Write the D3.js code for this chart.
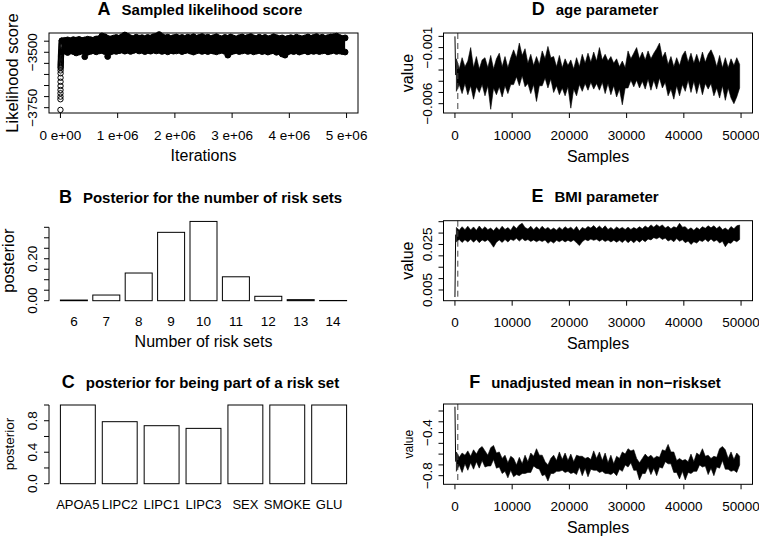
<!DOCTYPE html>
<html><head><meta charset="utf-8">
<script src="https://cdn.jsdelivr.net/npm/d3@7"></script>
<style>
body{margin:0;background:#fff}
svg{display:block}
text{font-family:"Liberation Sans",Arial,Helvetica,sans-serif;fill:#000}
</style>
</head><body>
<svg id="c" width="759" height="536"></svg>
<script>
// ---------------- DATA ----------------
// Panel A: sampled likelihood score
const aXTicks = [0, 1e6, 2e6, 3e6, 4e6, 5e6];
const aXTickLabels = ["0 e+00", "1 e+06", "2 e+06", "3 e+06", "4 e+06", "5 e+06"];
const aYTicks = [-3750, -3700, -3650, -3600, -3550, -3500, -3450];
const aYLabelled = [-3750, -3500];
const aBurnIter = [0, 300, 600, 900, 1200, 1500, 1800, 2100, 2400, 2700, 3000, 3600, 4200, 4800, 5400, 6000, 6600, 7200, 7800, 8400, 9000, 10000, 11000, 12000, 13000, 14000, 15000, 16000, 17000, 18000, 19000, 20000, 22000, 24000];
const aBurnScore = [-3760, -3712, -3700, -3685, -3670, -3652, -3633, -3615, -3595, -3582, -3571, -3566, -3560, -3555, -3550, -3545, -3540, -3535, -3530, -3525, -3520, -3515, -3510, -3505, -3500, -3495, -3490, -3484, -3478, -3472, -3466, -3460, -3454, -3448];
const aBlock = 50000; // iterations per envelope block
const aBandHi = [
-3448,-3446,-3444,-3447,-3443,-3445,-3442,-3446,-3444,-3441,
-3443,-3445,-3440,-3438,-3426,-3430,-3437,-3440,-3436,-3433,
-3437,-3430,-3422,-3428,-3435,-3438,-3432,-3436,-3434,-3439,
-3433,-3436,-3430,-3427,-3420,-3429,-3435,-3432,-3438,-3434,
-3431,-3436,-3433,-3439,-3432,-3435,-3430,-3437,-3433,-3429,
-3435,-3432,-3438,-3434,-3430,-3436,-3439,-3433,-3437,-3431,
-3436,-3440,-3434,-3431,-3437,-3433,-3429,-3435,-3438,-3432,
-3437,-3433,-3439,-3436,-3430,-3434,-3438,-3435,-3441,-3437,
-3434,-3438,-3432,-3436,-3439,-3435,-3431,-3437,-3433,-3429,
-3436,-3432,-3438,-3434,-3431,-3430,-3427,-3433,-3437,-3435];
const aBandLo = [
-3498,-3495,-3501,-3494,-3497,-3503,-3499,-3495,-3520,-3500,
-3496,-3493,-3498,-3494,-3492,-3497,-3519,-3499,-3494,-3496,
-3493,-3490,-3495,-3491,-3496,-3492,-3489,-3494,-3491,-3497,
-3492,-3495,-3490,-3494,-3491,-3496,-3493,-3498,-3492,-3495,
-3494,-3491,-3497,-3493,-3490,-3495,-3499,-3494,-3491,-3496,
-3493,-3497,-3492,-3495,-3498,-3494,-3491,-3496,-3513,-3499,
-3495,-3492,-3497,-3494,-3491,-3496,-3493,-3498,-3495,-3492,
-3497,-3494,-3499,-3495,-3493,-3500,-3496,-3508,-3513,-3498,
-3494,-3497,-3493,-3499,-3495,-3492,-3498,-3494,-3496,-3493,
-3497,-3494,-3492,-3498,-3495,-3491,-3496,-3494,-3497,-3499];

// Panel B: posterior for number of risk sets
const bCategories = ["6", "7", "8", "9", "10", "11", "12", "13", "14"];
const bPosterior = [0.003, 0.027, 0.132, 0.326, 0.378, 0.114, 0.021, 0.005, 0.001];
const bYTicks = [0, 0.05, 0.10, 0.15, 0.20, 0.25, 0.30, 0.35];
const bYLabelled = [0, 0.20];

// Panel C: posterior for being part of a risk set
const cCategories = ["APOA5", "LIPC2", "LIPC1", "LIPC3", "SEX", "SMOKE", "GLU"];
const cPosterior = [1.0, 0.788, 0.737, 0.703, 1.0, 1.0, 1.0];
const cYTicks = [0, 0.2, 0.4, 0.6, 0.8, 1.0];
const cYLabelled = [0, 0.4, 0.8];

// Trace panels D, E, F (upper / lower envelope per block of 500 samples)
const traceXTicks = [0, 10000, 20000, 30000, 40000, 50000];
const traceBlock = 500;
const burnIn = 500;

const dStart = 0.0000;
const dHi = [
-0.0020,-0.0029,-0.0019,-0.0027,-0.0022,-0.0010,-0.0028,-0.0018,-0.0029,-0.0021,
-0.0019,-0.0028,-0.0017,-0.0029,-0.0020,-0.0015,-0.0027,-0.0018,-0.0028,-0.0019,
-0.0012,-0.0019,-0.0006,-0.0017,-0.0011,-0.0024,-0.0016,-0.0026,-0.0018,-0.0025,
-0.0013,-0.0020,-0.0009,-0.0019,-0.0018,-0.0027,-0.0017,-0.0028,-0.0020,-0.0026,
-0.0021,-0.0029,-0.0019,-0.0027,-0.0016,-0.0024,-0.0015,-0.0023,-0.0014,-0.0022,
-0.0010,-0.0021,-0.0016,-0.0022,-0.0018,-0.0024,-0.0020,-0.0027,-0.0022,-0.0028,
-0.0013,-0.0020,-0.0015,-0.0010,-0.0020,-0.0014,-0.0021,-0.0013,-0.0020,-0.0015,
-0.0011,-0.0006,-0.0019,-0.0014,-0.0025,-0.0018,-0.0027,-0.0019,-0.0026,-0.0017,
-0.0013,-0.0023,-0.0015,-0.0024,-0.0016,-0.0024,-0.0014,-0.0023,-0.0016,-0.0012,
-0.0018,-0.0027,-0.0017,-0.0028,-0.0019,-0.0028,-0.0020,-0.0026,-0.0019,-0.0025];
const dLo = [
-0.0049,-0.0043,-0.0051,-0.0042,-0.0052,-0.0044,-0.0056,-0.0045,-0.0050,-0.0043,
-0.0053,-0.0044,-0.0065,-0.0046,-0.0052,-0.0045,-0.0054,-0.0044,-0.0051,-0.0043,
-0.0043,-0.0036,-0.0044,-0.0035,-0.0045,-0.0042,-0.0051,-0.0043,-0.0058,-0.0044,
-0.0044,-0.0037,-0.0046,-0.0038,-0.0050,-0.0044,-0.0052,-0.0046,-0.0053,-0.0045,
-0.0064,-0.0047,-0.0053,-0.0043,-0.0049,-0.0042,-0.0048,-0.0041,-0.0047,-0.0042,
-0.0048,-0.0041,-0.0051,-0.0042,-0.0052,-0.0044,-0.0054,-0.0047,-0.0061,-0.0046,
-0.0046,-0.0039,-0.0045,-0.0039,-0.0046,-0.0040,-0.0047,-0.0038,-0.0048,-0.0039,
-0.0047,-0.0037,-0.0046,-0.0041,-0.0053,-0.0047,-0.0056,-0.0044,-0.0053,-0.0043,
-0.0049,-0.0039,-0.0050,-0.0040,-0.0051,-0.0041,-0.0052,-0.0042,-0.0047,-0.0042,
-0.0053,-0.0046,-0.0055,-0.0044,-0.0057,-0.0046,-0.0055,-0.0060,-0.0054,-0.0046];
const dYTicks = [-0.006, -0.005, -0.004, -0.003, -0.002, -0.001, 0.000];
const dYLabelled = [-0.006, -0.001];

const eStart = 0.0019;
const eHi = [
0.0325,0.0313,0.0328,0.0315,0.0330,0.0314,0.0327,0.0312,0.0331,0.0316,
0.0328,0.0315,0.0322,0.0310,0.0326,0.0314,0.0330,0.0316,0.0324,0.0313,
0.0332,0.0320,0.0335,0.0343,0.0324,0.0318,0.0330,0.0315,0.0328,0.0316,
0.0330,0.0317,0.0325,0.0314,0.0322,0.0313,0.0326,0.0315,0.0328,0.0318,
0.0326,0.0314,0.0329,0.0309,0.0325,0.0318,0.0329,0.0322,0.0333,0.0320,
0.0331,0.0319,0.0332,0.0316,0.0325,0.0315,0.0327,0.0318,0.0325,0.0316,
0.0326,0.0316,0.0324,0.0318,0.0328,0.0319,0.0331,0.0322,0.0336,0.0326,
0.0337,0.0328,0.0336,0.0322,0.0330,0.0319,0.0328,0.0323,0.0343,0.0326,
0.0328,0.0315,0.0323,0.0312,0.0324,0.0316,0.0328,0.0321,0.0332,0.0323,
0.0332,0.0320,0.0330,0.0315,0.0322,0.0312,0.0329,0.0319,0.0332,0.0335];
const eLo = [
0.0262,0.0272,0.0259,0.0271,0.0261,0.0273,0.0260,0.0272,0.0258,0.0270,
0.0263,0.0271,0.0256,0.0238,0.0260,0.0270,0.0259,0.0272,0.0261,0.0273,
0.0267,0.0277,0.0265,0.0276,0.0266,0.0272,0.0263,0.0270,0.0262,0.0269,
0.0263,0.0270,0.0255,0.0265,0.0256,0.0268,0.0262,0.0270,0.0261,0.0269,
0.0262,0.0270,0.0257,0.0245,0.0262,0.0272,0.0266,0.0274,0.0268,0.0273,
0.0264,0.0272,0.0263,0.0270,0.0261,0.0269,0.0260,0.0268,0.0259,0.0271,
0.0258,0.0269,0.0257,0.0270,0.0260,0.0271,0.0262,0.0274,0.0270,0.0280,
0.0275,0.0282,0.0272,0.0278,0.0265,0.0272,0.0262,0.0276,0.0264,0.0271,
0.0258,0.0265,0.0250,0.0262,0.0256,0.0268,0.0263,0.0273,0.0262,0.0274,
0.0263,0.0270,0.0256,0.0264,0.0240,0.0258,0.0255,0.0269,0.0262,0.0272];
const eYTicks = [0.005, 0.010, 0.015, 0.020, 0.025, 0.030, 0.035];
const eYLabelled = [0.005, 0.025];

const fStart = -0.16;
const fHi = [
-0.58,-0.63,-0.59,-0.61,-0.57,-0.62,-0.56,-0.60,-0.55,-0.53,
-0.57,-0.61,-0.54,-0.52,-0.59,-0.58,-0.64,-0.61,-0.68,-0.62,
-0.64,-0.70,-0.63,-0.69,-0.61,-0.67,-0.59,-0.62,-0.55,-0.61,
-0.61,-0.67,-0.70,-0.64,-0.61,-0.66,-0.58,-0.65,-0.59,-0.66,
-0.60,-0.67,-0.61,-0.62,-0.62,-0.64,-0.63,-0.65,-0.57,-0.64,
-0.58,-0.66,-0.59,-0.68,-0.61,-0.69,-0.62,-0.64,-0.58,-0.60,
-0.55,-0.57,-0.56,-0.64,-0.68,-0.64,-0.60,-0.63,-0.61,-0.64,
-0.62,-0.63,-0.56,-0.57,-0.51,-0.58,-0.58,-0.66,-0.64,-0.66,
-0.65,-0.67,-0.60,-0.67,-0.59,-0.61,-0.55,-0.62,-0.61,-0.64,
-0.62,-0.63,-0.55,-0.53,-0.56,-0.64,-0.58,-0.65,-0.59,-0.62];
const fLo = [
-0.76,-0.70,-0.77,-0.69,-0.75,-0.68,-0.74,-0.67,-0.73,-0.66,
-0.72,-0.71,-0.71,-0.65,-0.73,-0.72,-0.78,-0.76,-0.82,-0.75,
-0.81,-0.79,-0.80,-0.78,-0.78,-0.77,-0.77,-0.71,-0.73,-0.74,
-0.80,-0.79,-0.85,-0.78,-0.78,-0.76,-0.76,-0.75,-0.77,-0.76,
-0.78,-0.77,-0.79,-0.72,-0.80,-0.73,-0.81,-0.74,-0.75,-0.75,
-0.77,-0.76,-0.78,-0.78,-0.79,-0.77,-0.80,-0.74,-0.76,-0.70,
-0.72,-0.68,-0.75,-0.75,-0.84,-0.78,-0.78,-0.72,-0.79,-0.73,
-0.80,-0.72,-0.73,-0.67,-0.69,-0.69,-0.77,-0.77,-0.83,-0.76,
-0.84,-0.77,-0.78,-0.76,-0.76,-0.70,-0.72,-0.71,-0.79,-0.73,
-0.80,-0.72,-0.73,-0.66,-0.74,-0.74,-0.76,-0.75,-0.77,-0.70];
const fYTicks = [-0.8, -0.7, -0.6, -0.5, -0.4, -0.3, -0.2];
const fYLabelled = [-0.8, -0.4];

// ---------------- DRAWING ----------------
const svg = d3.select("#c");
svg.append("rect").attr("width", 759).attr("height", 536).attr("fill", "#fff");

const TICK = 5, TICKFS = 13.5;

function title(cx, by, letter, txt) {
  const t = svg.append("text").attr("x", cx).attr("y", by)
    .attr("text-anchor", "middle").style("font-weight", "bold");
  t.append("tspan").style("font-size", "18px").text(letter);
  t.append("tspan").attr("dx", 11).style("font-size", "15px").text(txt);
}
function yTitle(bx, cy, txt, fs) {
  svg.append("text").attr("transform", `translate(${bx},${cy}) rotate(-90)`)
    .attr("text-anchor", "middle").style("font-size", fs + "px").text(txt);
}
function xTitle(cx, cy, txt) {
  svg.append("text").attr("x", cx).attr("y", cy).attr("dy", "0.35em")
    .attr("text-anchor", "middle").style("font-size", "16px").text(txt);
}
function box(x0, x1, y0, y1) {
  svg.append("rect").attr("x", x0).attr("y", y0).attr("width", x1 - x0).attr("height", y1 - y0)
    .attr("fill", "none").attr("stroke", "#000").attr("stroke-width", 1);
}
function yAxis(scale, x, ticks, labelled, fmt, drawLine) {
  const g = svg.append("g");
  if (drawLine) {
    g.append("line").attr("x1", x).attr("x2", x)
      .attr("y1", scale(ticks[0])).attr("y2", scale(ticks[ticks.length - 1]))
      .attr("stroke", "#000");
  }
  g.selectAll("line.t").data(ticks).join("line").attr("class", "t")
    .attr("x1", x - TICK).attr("x2", x).attr("y1", d => scale(d)).attr("y2", d => scale(d))
    .attr("stroke", "#000");
  g.selectAll("text").data(labelled).join("text")
    .attr("transform", d => `translate(${x - 12},${scale(d)}) rotate(-90)`)
    .attr("text-anchor", "middle").style("font-size", TICKFS + "px")
    .text(fmt);
}
function xAxis(scale, y, ticks, labels) {
  const g = svg.append("g");
  g.selectAll("line").data(ticks).join("line")
    .attr("x1", d => scale(d)).attr("x2", d => scale(d)).attr("y1", y).attr("y2", y + TICK)
    .attr("stroke", "#000");
  g.selectAll("text").data(ticks).join("text")
    .attr("x", d => scale(d)).attr("y", y + 26.5).attr("text-anchor", "middle")
    .style("font-size", TICKFS + "px").text((d, i) => labels[i]);
}

// ----- Panel A -----
{
  const x = d3.scaleLinear([-2e5, 5.2e6], [49, 358]);
  const y = d3.scaleLinear([-3774, -3413], [113, 33]);
  const g = svg.append("g");
  const blocks = aBandHi.map((h, i) => ({ it: (i + 0.5) * aBlock, hi: h, lo: aBandLo[i] }));
  g.append("path").datum(blocks)
    .attr("d", d3.area().x(d => x(d.it)).y0(d => y(d.lo)).y1(d => y(d.hi)))
    .attr("fill", "#000");
  const edge = [];
  blocks.forEach(b => { edge.push([b.it, b.hi]); edge.push([b.it, b.lo]); });
  g.append("g").selectAll("circle").data(edge).join("circle")
    .attr("cx", d => x(d[0])).attr("cy", d => y(d[1])).attr("r", 2.9)
    .attr("fill", "#000").attr("stroke", "#000").attr("stroke-width", 1);
  g.append("g").selectAll("circle").data(aBurnIter).join("circle")
    .attr("cx", d => x(d)).attr("cy", (d, i) => y(aBurnScore[i])).attr("r", 2.7)
    .attr("fill", "none").attr("stroke", "#000").attr("stroke-width", 1);
  box(49, 358, 33, 113);
  xAxis(x, 113, aXTicks, aXTickLabels);
  yAxis(y, 49, aYTicks, aYLabelled, d => d3.format("d")(d), false);
  title(200, 15, "A", "Sampled likelihood score");
  yTitle(18, 73, "Likelihood score", 16.5);
  xTitle(203.5, 155, "Iterations");
}

// ----- Panel B -----
{
  const x = d3.scaleBand(bCategories, [60.4, 346.6]).paddingInner(1 / 6).paddingOuter(0);
  const y = d3.scaleLinear([0, 0.35], [300.7, 227.3]);
  svg.append("g").selectAll("rect").data(bCategories).join("rect")
    .attr("x", d => x(d)).attr("width", x.bandwidth())
    .attr("y", (d, i) => y(bPosterior[i])).attr("height", (d, i) => y(0) - y(bPosterior[i]))
    .attr("fill", "#fff").attr("stroke", "#000").attr("stroke-width", 1);
  yAxis(y, 49, bYTicks, bYLabelled, d3.format(".2f"), true);
  svg.append("g").selectAll("text").data(bCategories).join("text")
    .attr("x", d => x(d) + x.bandwidth() / 2).attr("y", 325.7).attr("text-anchor", "middle")
    .style("font-size", TICKFS + "px").text(d => d);
  title(200.5, 203, "B", "Posterior for the number of risk sets");
  yTitle(14, 260.7, "posterior", 16.5);
  xTitle(203.5, 341.7, "Number of risk sets");
}

// ----- Panel C -----
{
  const x = d3.scaleBand(cCategories, [60.4, 346.6]).paddingInner(1 / 6).paddingOuter(0);
  const y = d3.scaleLinear([0, 1], [483.7, 405]);
  svg.append("g").selectAll("rect").data(cCategories).join("rect")
    .attr("x", d => x(d)).attr("width", x.bandwidth())
    .attr("y", (d, i) => y(cPosterior[i])).attr("height", (d, i) => y(0) - y(cPosterior[i]))
    .attr("fill", "#fff").attr("stroke", "#000").attr("stroke-width", 1);
  yAxis(y, 49, cYTicks, cYLabelled, d3.format(".1f"), true);
  svg.append("g").selectAll("text").data(cCategories).join("text")
    .attr("x", d => x(d) + x.bandwidth() / 2).attr("y", 509).attr("text-anchor", "middle")
    .style("font-size", "13px").text(d => d);
  title(200.5, 388, "C", "posterior for being part of a risk set");
  yTitle(13.5, 444, "posterior", 13.5);
}

// ----- Trace panels -----
function tracePanel(y0, y1, yDomain, start, hi, lo, yTicks, yLabelled, fmt, letter, ttl, titleY, ylabFs) {
  const x = d3.scaleLinear([-2000, 52000], [443.5, 752.5]);
  const y = d3.scaleLinear(yDomain, [y1, y0]);
  const blocks = hi.map((h, i) => ({ s: (i + 0.5) * traceBlock, hi: h, lo: lo[i] }));
  // dense band of the chain: filled envelope
  svg.append("path").datum(blocks)
    .attr("d", d3.area().x(d => x(d.s)).y0(d => y(d.lo)).y1(d => y(d.hi)))
    .attr("fill", "#000").attr("stroke", "#000").attr("stroke-width", 0.6);
  // initial jump of the chain
  svg.append("path").datum([[0, start], [blocks[0].s * 0.5, (blocks[0].hi + blocks[0].lo) / 2]])
    .attr("d", d3.line().x(d => x(d[0])).y(d => y(d[1])))
    .attr("fill", "none").attr("stroke", "#000").attr("stroke-width", 1);
  svg.append("line").attr("x1", x(burnIn)).attr("x2", x(burnIn)).attr("y1", y0).attr("y2", y1)
    .attr("stroke", "#444").attr("stroke-width", 1).attr("stroke-dasharray", "6,4");
  box(443.5, 752.5, y0, y1);
  xAxis(x, y1, traceXTicks, traceXTicks.map(String));
  yAxis(y, 443.5, yTicks, yLabelled, fmt, false);
  title(595, titleY, letter, ttl);
  yTitle(413, (y0 + y1) / 2, "value", ylabFs);
  xTitle(598, y1 + 43, "Samples");
}
tracePanel(33, 113, [-0.00683, 0.0003], dStart, dHi, dLo, dYTicks, dYLabelled, d3.format(".3f"), "D", "age parameter", 15, 16);
tracePanel(220.7, 300.7, [0.0003, 0.03544], eStart, eHi, eLo, eYTicks, eYLabelled, d3.format(".3f"), "E", "BMI parameter", 202.3, 16);
tracePanel(404, 484.3, [-0.88, -0.135], fStart, fHi, fLo, fYTicks, fYLabelled, d3.format(".1f"), "F", "unadjusted mean in non\u2212riskset", 388, 12);
</script>
</body></html>
